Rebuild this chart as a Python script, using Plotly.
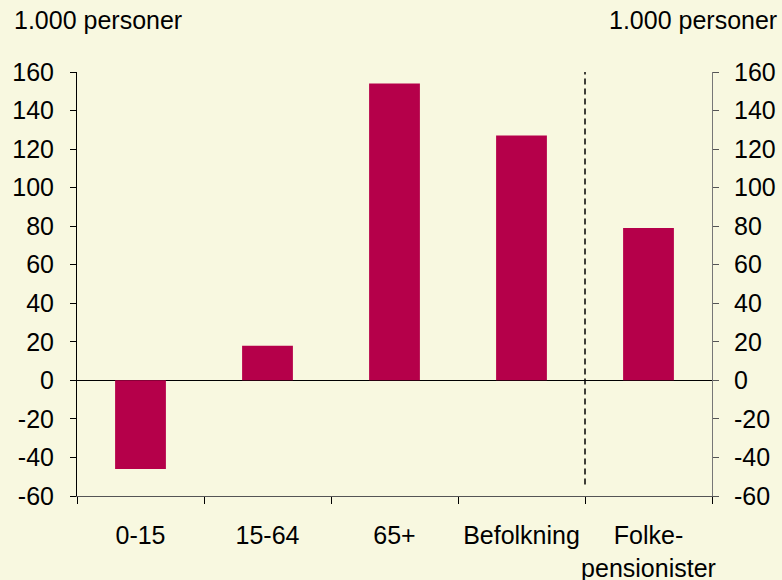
import plotly.graph_objects as go

kategorier = ["0-15", "15-64", "65+", "Befolkning", "Folke-<br>pensionister"]
aendring = [-46, 18, 154, 127, 79]
y_ticks = list(range(-60, 161, 20))
y_tekst = [str(v) for v in y_ticks]  # almindelig bindestreg som minus

bg = "#F8F8E0"
bar_farve = "#B5004A"
font = dict(family="Liberation Sans, Arial, sans-serif", size=25, color="#000000")

fig = go.Figure()
fig.add_trace(go.Bar(x=kategorier, y=aendring, marker=dict(color=bar_farve, line=dict(width=0)),
                     width=0.4, hoverinfo="x+y"))
# usynlig trace saa hoejre akse vises
fig.add_trace(go.Scatter(x=kategorier, y=aendring, yaxis="y2", mode="markers",
                         marker=dict(opacity=0), hoverinfo="skip", showlegend=False))

fig.update_layout(
    width=782, height=580,
    paper_bgcolor=bg, plot_bgcolor=bg,
    font=font,
    showlegend=False,
    margin=dict(l=77, r=70, t=72, b=84, autoexpand=False),
    xaxis=dict(tickson="boundaries", ticks="outside", ticklen=7, tickcolor="#000000",
               showline=True, linecolor="#555555", linewidth=1, tickangle=0,
               showgrid=False, ticklabelstandoff=17, automargin=False),
    yaxis=dict(range=[-60, 160], tickvals=y_ticks, ticktext=y_tekst, ticks="outside", ticklen=6,
               tickcolor="#000000", showline=True, linecolor="#000000", linewidth=1,
               showgrid=False, zeroline=True, zerolinecolor="#000000", zerolinewidth=1,
               ticklabelstandoff=11, automargin=False),
    yaxis2=dict(range=[-60, 160], tickvals=y_ticks, ticktext=y_tekst, ticks="outside", ticklen=6,
                tickcolor="#555555", showline=True, linecolor="#777777", linewidth=1,
                showgrid=False, zeroline=False, overlaying="y", side="right",
                ticklabelstandoff=10, automargin=False),
    bargap=0.6,
)

# stiplet skillelinje mellem Befolkning og Folkepensionister
fig.add_shape(type="line", xref="x", yref="y", x0=3.5, x1=3.5, y0=-54, y1=165,
              line=dict(color="#000000", width=1.5, dash="6px,4px"))

fig.add_annotation(text="1.000 personer", xref="paper", yref="paper", x=0, y=1.0,
                   xshift=-65, yshift=36, xanchor="left", yanchor="bottom",
                   showarrow=False, font=font)
fig.add_annotation(text="1.000 personer", xref="paper", yref="paper", x=1.0, y=1.0,
                   xshift=67, yshift=36, xanchor="right", yanchor="bottom",
                   showarrow=False, font=font)

fig.write_html("out.html", config={"displayModeBar": False},
               post_script="document.body.style.margin='0';")
